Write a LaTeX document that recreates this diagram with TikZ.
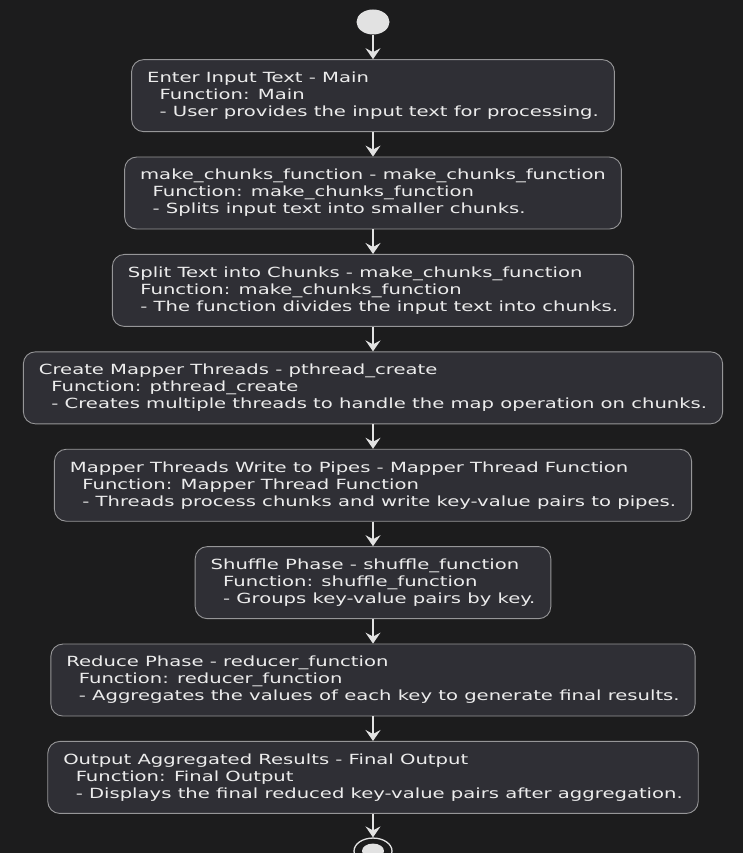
\documentclass[tikz,border=0pt]{standalone}
\usepackage{fontspec}
\setmainfont[FakeStretch=1.4]{DejaVu Sans}
\usepackage{tikz}
\usetikzlibrary{positioning, shapes.geometric, arrows.meta}
\definecolor{bgdark}{RGB}{28,28,29}
\definecolor{boxfill}{RGB}{47,47,53}
\definecolor{boxline}{RGB}{150,150,152}
\definecolor{fgtext}{RGB}{236,236,236}
\definecolor{dotcol}{RGB}{226,226,226}
\tikzstyle{actbox} = [draw=boxline, line width=0.9pt, fill=boxfill, rounded corners=12pt, text=fgtext, align=left, minimum height=72pt, inner xsep=15.5pt, font=\fontsize{14}{17}\selectfont]
\tikzstyle{arrow} = [line width=1.4pt, draw=dotcol, -{Stealth[length=11pt, width=15pt, inset=4pt]}]
\newcommand{\indnt}{\hspace*{12.5pt}}

\begin{document}
\begin{tikzpicture}[x=1pt, y=1pt, node distance=24.5pt]
  % background and frame
  \fill[bgdark] (0,0) rectangle (743,853);
  \useasboundingbox (0,0) rectangle (743,853);

  % start point
  \node[ellipse, fill=dotcol, minimum width=33pt, minimum height=25pt, inner sep=0pt] (start) at (373,831) {};

  % activities
  \node[actbox, below=of start] (input) {Enter Input Text - Main\\\indnt Function: Main\\\indnt - User provides the input text for processing.};
  \node[actbox, below=of input] (mkchunks) {make\_chunks\_function - make\_chunks\_function\\\indnt Function: make\_chunks\_function\\\indnt - Splits input text into smaller chunks.};
  \node[actbox, below=of mkchunks] (split) {Split Text into Chunks - make\_chunks\_function\\\indnt Function: make\_chunks\_function\\\indnt - The function divides the input text into chunks.};
  \node[actbox, below=of split] (mappers) {Create Mapper Threads - pthread\_create\\\indnt Function: pthread\_create\\\indnt - Creates multiple threads to handle the map operation on chunks.};
  \node[actbox, below=of mappers] (pipes) {Mapper Threads Write to Pipes - Mapper Thread Function\\\indnt Function: Mapper Thread Function\\\indnt - Threads process chunks and write key-value pairs to pipes.};
  \node[actbox, below=of pipes] (shuffle) {Shuffle Phase - shuffle\_function\\\indnt Function: shuffle\_function\\\indnt - Groups key-value pairs by key.};
  \node[actbox, below=of shuffle] (reduce) {Reduce Phase - reducer\_function\\\indnt Function: reducer\_function\\\indnt - Aggregates the values of each key to generate final results.};
  \node[actbox, below=of reduce] (output) {Output Aggregated Results - Final Output\\\indnt Function: Final Output\\\indnt - Displays the final reduced key-value pairs after aggregation.};

  % end point
  \node[ellipse, draw=dotcol, line width=1.3pt, minimum width=38pt, minimum height=26pt, inner sep=0pt, below=23.5pt of output] (stop) {};
  \node[ellipse, fill=dotcol, minimum width=22pt, minimum height=15pt, inner sep=0pt] (stopdot) at (stop.center) {};

  % flow
  \draw[arrow] (start) -- (input);
  \draw[arrow] (input) -- (mkchunks);
  \draw[arrow] (mkchunks) -- (split);
  \draw[arrow] (split) -- (mappers);
  \draw[arrow] (mappers) -- (pipes);
  \draw[arrow] (pipes) -- (shuffle);
  \draw[arrow] (shuffle) -- (reduce);
  \draw[arrow] (reduce) -- (output);
  \draw[arrow] (output) -- (stop);

\end{tikzpicture}
\end{document}
